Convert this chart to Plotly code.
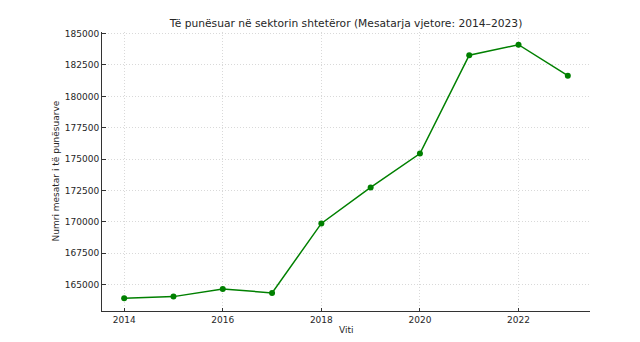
import plotly.graph_objects as go

years = [2014, 2015, 2016, 2017, 2018, 2019, 2020, 2021, 2022, 2023]
employed = [163910, 164045, 164658, 164340, 169877, 172741, 175446, 183274, 184117, 181651]

title = "Të punësuar në sektorin shtetëror (Mesatarja vjetore: 2014–2023)"
xlabel = "Viti"
ylabel = "Numri mesatar i të punësuarve"

font = "DejaVu Sans"
txt = "#262626"
fs = 9

W, H = 640, 342
L, R, T, B = 102, 50, 32, 31

fig = go.Figure(go.Scatter(
    x=years, y=employed, mode="lines+markers",
    line=dict(color="#008000", width=1.5),
    marker=dict(color="#008000", size=6),
))

ymin, ymax = min(employed), max(employed)
pad = (ymax - ymin) * 0.05

grid = dict(showgrid=True, gridcolor="#d9d9d9", griddash="1px,2px", gridwidth=0.8)

fig.update_layout(
    width=W, height=H,
    margin=dict(l=L, r=R, t=T, b=B),
    paper_bgcolor="white", plot_bgcolor="white",
    showlegend=False,
    font=dict(family=font, size=fs, color=txt),
    title=dict(text=title, x=(L + W - R) / 2 / W, xanchor="center",
               y=1 - 23 / H, yanchor="middle",
               font=dict(family=font, size=10.7, color=txt)),
    xaxis=dict(
        range=[2013.55, 2023.45], tickmode="linear", tick0=2014, dtick=2,
        showline=True, linecolor="#333333", linewidth=1,
        ticks="inside", ticklen=3.5, tickcolor="#333333",
        tickfont=dict(size=fs), zeroline=False, automargin=False, **grid,
    ),
    yaxis=dict(
        range=[ymin - pad, ymax + pad], tickmode="linear", tick0=165000, dtick=2500,
        tickformat="d",
        showline=True, linecolor="#333333", linewidth=1,
        ticks="inside", ticklen=3.5, tickcolor="#333333",
        tickfont=dict(size=fs), zeroline=False, automargin=False, **grid,
    ),
    annotations=[
        dict(text=xlabel, x=0.5, xref="paper", y=-(330 - (H - B)) / (H - T - B),
             yref="paper", xanchor="center", yanchor="middle", showarrow=False,
             font=dict(size=fs, color=txt)),
        dict(text=ylabel, x=-(L - 55) / (W - L - R), xref="paper", y=0.5, yref="paper",
             xanchor="center", yanchor="middle", textangle=-90, showarrow=False,
             font=dict(size=fs, color=txt)),
    ],
)

fig.write_html("out.html")
